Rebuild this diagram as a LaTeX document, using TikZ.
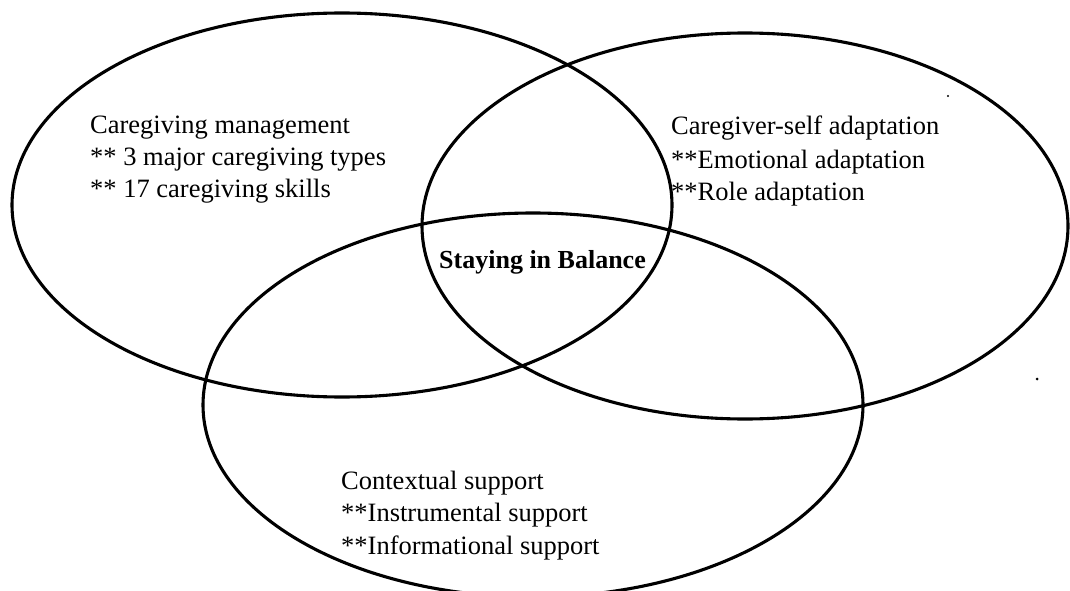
\documentclass[tikz,border=0pt]{standalone}
\usepackage{fontspec}
\setmainfont{Liberation Serif}
\begin{document}
\begin{tikzpicture}[x=1pt,y=-1pt,
  ring/.style={draw=black,line width=3.1pt},
  txt/.style={anchor=base west,inner sep=0pt,font=\fontsize{26.5}{32}\selectfont},
  core/.style={anchor=base west,inner sep=0pt,font=\fontsize{26}{32}\selectfont\bfseries}]
\useasboundingbox (0,0) rectangle (1070,591);
% the three overlapping domains
\draw[ring] (342,205) ellipse [x radius=330pt, y radius=192pt];
\draw[ring] (745,226) ellipse [x radius=323pt, y radius=193pt];
\draw[ring] (533,405) ellipse [x radius=330pt, y radius=192pt];
% caregiving management
\node[txt] (cm1) at (90,133) {Caregiving management};
\node[txt] (cm2) at (90,165) {** 3 major caregiving types};
\node[txt] (cm3) at (90,197) {** 17 caregiving skills};
% caregiver-self adaptation
\node[txt] (sa1) at (671,135) {Caregiver-self adaptation};
\node[txt] (sa2) at (671,168) {**Emotional adaptation};
\node[txt] (sa3) at (671,200) {**Role adaptation};
% contextual support
\node[txt] (cs1) at (341,489) {Contextual support};
\node[txt] (cs2) at (341,521) {**Instrumental support};
\node[txt] (cs3) at (341,554) {**Informational support};
% centre
\node[core] (bal) at (439,268) {Staying in Balance};
% specks
\fill (948,96) circle (1.2pt);
\fill (1037,379) circle (1.5pt);
\end{tikzpicture}
\end{document}
